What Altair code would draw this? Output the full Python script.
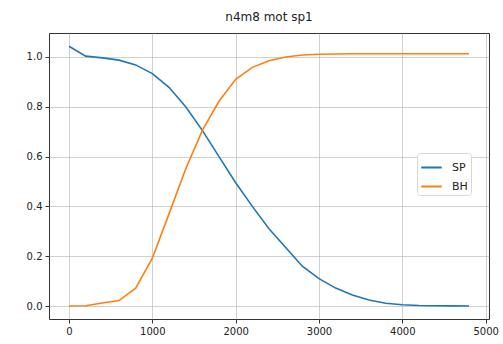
import altair as alt
import pandas as pd

# Simulation steps and the fraction of each population
steps = [0, 200, 400, 600, 800, 1000, 1200, 1400, 1600, 1800, 2000, 2200, 2400,
         2600, 2800, 3000, 3200, 3400, 3600, 3800, 4000, 4200, 4400, 4600, 4800]
sp = [1.043, 1.003, 0.996, 0.987, 0.968, 0.933, 0.878, 0.80, 0.705, 0.60, 0.495,
      0.40, 0.31, 0.235, 0.16, 0.11, 0.072, 0.044, 0.024, 0.011, 0.005, 0.002,
      0.001, 0.0005, 0.0003]
bh = [0.0, 0.001, 0.012, 0.022, 0.072, 0.192, 0.37, 0.55, 0.705, 0.822, 0.91,
      0.958, 0.985, 1.0, 1.008, 1.011, 1.012, 1.013, 1.013, 1.013, 1.013, 1.013,
      1.013, 1.013, 1.013]
series = ["SP", "BH"]
colors = ["#1f77b4", "#ff7f0e"]

rows = []
for name, vals in zip(series, [sp, bh]):
    for s, v in zip(steps, vals):
        rows.append({"step": s, "value": v, "series": name})
df = pd.DataFrame(rows)

font = "DejaVu Sans"

chart = alt.Chart(df).mark_line(strokeWidth=1.6, clip=True).encode(
    x=alt.X("step:Q",
            scale=alt.Scale(domain=[-240, 5040], nice=False, zero=False),
            axis=alt.Axis(values=[0, 1000, 2000, 3000, 4000, 5000], title=None,
                          format="d")),
    y=alt.Y("value:Q",
            scale=alt.Scale(domain=[-0.052, 1.096], nice=False, zero=False),
            axis=alt.Axis(values=[0.0, 0.2, 0.4, 0.6, 0.8, 1.0], title=None,
                          format=".1f")),
    color=alt.Color("series:N",
                    scale=alt.Scale(domain=series, range=colors),
                    legend=alt.Legend(title=None, orient="none",
                                      legendX=368, legendY=120,
                                      symbolType="stroke", symbolSize=420,
                                      symbolStrokeWidth=2,
                                      labelFont=font, labelFontSize=11,
                                      labelColor="#222", labelOffset=9,
                                      fillColor="white", strokeColor="#d8d8d8",
                                      cornerRadius=3, padding=3,
                                      rowPadding=2)),
    order=alt.Order("step:Q"),
).properties(
    width=440,
    height=286,
    title=alt.TitleParams("n4m8 mot sp1", font=font, fontSize=12,
                          fontWeight="normal", color="#222", offset=9),
    autosize=alt.AutoSizeParams(type="none"),
    padding={"left": 49, "top": 33, "right": 14, "bottom": 25},
).configure_axis(
    grid=True, gridColor="#b0b0b0", gridOpacity=0.6, gridWidth=1,
    domain=False, tickColor="#333", tickSize=4, tickWidth=1,
    labelFont=font, labelFontSize=10, labelColor="#222", labelPadding=3,
).configure_view(
    stroke="#333", strokeWidth=1,
)

chart.save("out.html", embed_options={"renderer": "svg", "actions": False})
